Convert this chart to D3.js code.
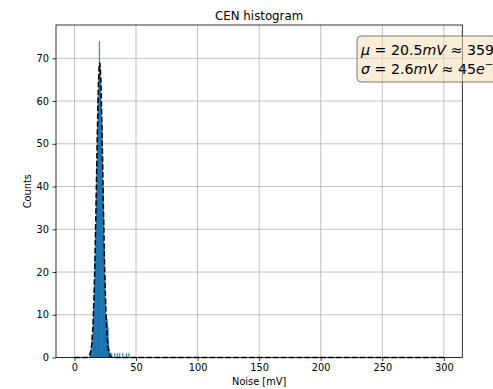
<!DOCTYPE html>
<html>
<head>
<meta charset="utf-8">
<script src="https://cdn.jsdelivr.net/npm/d3@7"></script>
<style>
	body { margin: 0; background: #fff; }
	text { font-family: 'DejaVu Sans', sans-serif; fill: #000; }
</style>
</head>
<body>
<div class="chart"></div>
<script>
// histogram bins (left edge, mV) and counts
const binWidth = 0.5;
const binLeft = [12.5, 13, 13.5, 14, 14.5, 15, 15.5, 16, 16.5, 17, 17.5, 18, 18.5, 19, 19.5, 20, 20.5, 21,
	21.5, 22, 22.5, 23, 23.5, 24, 24.5, 25, 25.5, 26, 26.5, 27, 27.5, 28, 28.5, 29,
	30, 32.5, 34.5, 36.5, 39, 42, 44];
const counts = [1, 1, 2, 4, 5, 8, 12, 17, 23, 31, 38, 46, 54, 61, 66, 74, 68, 65,
	60, 55, 47, 40, 33, 26, 19, 14, 10, 8, 9, 7, 4, 2, 1, 1,
	1, 1, 1, 1, 1, 1, 1];

// gaussian fit curve, sampled points
const fitX = [0, 10, 11, 12, 13, 14, 15, 16, 16.5, 17, 17.5, 18, 18.5, 19, 19.5, 20, 20.5, 21, 21.5, 22, 22.5,
	23, 23.5, 24, 24.5, 25, 26, 27, 28, 29, 30, 31, 300];
const fitY = [0, 0, 0.1, 0.3, 1.1, 3.0, 7.3, 15.4, 21.1, 27.9, 35.4, 43.5, 51.4, 58.4, 64.1, 67.7, 69.0, 67.7, 64.1, 58.4, 51.4,
	43.5, 35.4, 27.9, 21.1, 15.4, 7.3, 3.0, 1.1, 0.3, 0.1, 0, 0];

const xTicks = [0, 50, 100, 150, 200, 250, 300];
const yTicks = [0, 10, 20, 30, 40, 50, 60, 70];

const title = 'CEN histogram';
const xLabel = 'Noise [mV]';
const yLabel = 'Counts';
const statLines = [
	[['μ', 'i'], [' = 20.5', 'n'], ['mV', 'i'], [' ≈ 359', 'n'], ['e', 'i']],
	[['σ', 'i'], [' = 2.6', 'n'], ['mV', 'i'], [' ≈ 45', 'n'], ['e', 'i']]
];

let width = 493, height = 389;
let [pLeft, pRight, pTop, pBottom] = [56, 462.3, 25, 357.5];

let x = d3.scaleLinear().domain([-15, 315]).range([pLeft, pRight]);
let y = d3.scaleLinear().domain([0, 77.8]).range([pBottom, pTop]);

let svg = d3.select('.chart').append('svg')
	.attr('width', width)
	.attr('height', height);

// grid
let grid = svg.append('g').attr('stroke', '#b0b0b0').attr('stroke-width', 0.8);
grid.selectAll('.gx').data(xTicks).enter().append('line')
	.attr('x1', d => x(d)).attr('x2', d => x(d))
	.attr('y1', pTop).attr('y2', pBottom);
grid.selectAll('.gy').data(yTicks).enter().append('line')
	.attr('x1', pLeft).attr('x2', pRight)
	.attr('y1', d => y(d)).attr('y2', d => y(d));

// histogram as one stepped path
let pts = [];
binLeft.forEach((b, i) => {
	pts.push([b, 0], [b, counts[i]], [b + binWidth, counts[i]], [b + binWidth, 0]);
});
svg.append('path')
	.attr('d', d3.line().x(d => x(d[0])).y(d => y(d[1]))(pts) + 'Z')
	.attr('fill', '#1f77b4')
	.attr('stroke', '#1f77b4')
	.attr('stroke-width', 0.4);

// fit curve
svg.append('path')
	.attr('d', d3.line().x((d, i) => x(fitX[i])).y(d => y(d))(fitY))
	.attr('fill', 'none')
	.attr('stroke', '#000')
	.attr('stroke-width', 1.5)
	.attr('stroke-dasharray', '5.5,2.4');

// axes
let xAxis = svg.append('g')
	.attr('transform', `translate(0, ${pBottom})`)
	.call(d3.axisBottom(x).tickValues(xTicks).tickSize(3.5).tickPadding(3.5));
let yAxis = svg.append('g')
	.attr('transform', `translate(${pLeft}, 0)`)
	.call(d3.axisLeft(y).tickValues(yTicks).tickSize(3.5).tickPadding(3.5));
[xAxis, yAxis].forEach(a => {
	a.select('.domain').remove();
	a.selectAll('line').attr('stroke', '#000').attr('stroke-width', 0.8);
	a.selectAll('text').style('font-size', '9.8px').style('font-family', 'DejaVu Sans');
});

svg.append('rect')
	.attr('x', pLeft).attr('y', pTop)
	.attr('width', pRight - pLeft).attr('height', pBottom - pTop)
	.attr('fill', 'none').attr('stroke', '#000').attr('stroke-width', 0.8);

// labels
svg.append('text').text(title)
	.attr('x', (pLeft + pRight) / 2).attr('y', 20)
	.attr('text-anchor', 'middle').style('font-size', '11.8px');
svg.append('text').text(xLabel)
	.attr('x', (pLeft + pRight) / 2).attr('y', 385)
	.attr('text-anchor', 'middle').style('font-size', '9.8px');
svg.append('text').text(yLabel)
	.attr('transform', `translate(31, ${(pTop + pBottom) / 2}) rotate(-90)`)
	.attr('text-anchor', 'middle').style('font-size', '9.8px');

// stats box, runs past the right edge like the original
svg.append('rect')
	.attr('x', 357).attr('y', 36).attr('width', 170).attr('height', 46).attr('rx', 4)
	.attr('fill', '#f5deb3').attr('fill-opacity', 0.5)
	.attr('stroke', '#000').attr('stroke-opacity', 0.5).attr('stroke-width', 1);

statLines.forEach((line, i) => {
	let t = svg.append('text')
		.attr('x', 361).attr('y', 55 + i * 19)
		.style('font-size', '14.2px');
	line.forEach(([s, k]) => {
		t.append('tspan').text(s).style('font-style', k == 'i' ? 'italic' : 'normal');
	});
	t.append('tspan').text('−').attr('dy', -6).style('font-size', '10px');
});
</script>
</body>
</html>
